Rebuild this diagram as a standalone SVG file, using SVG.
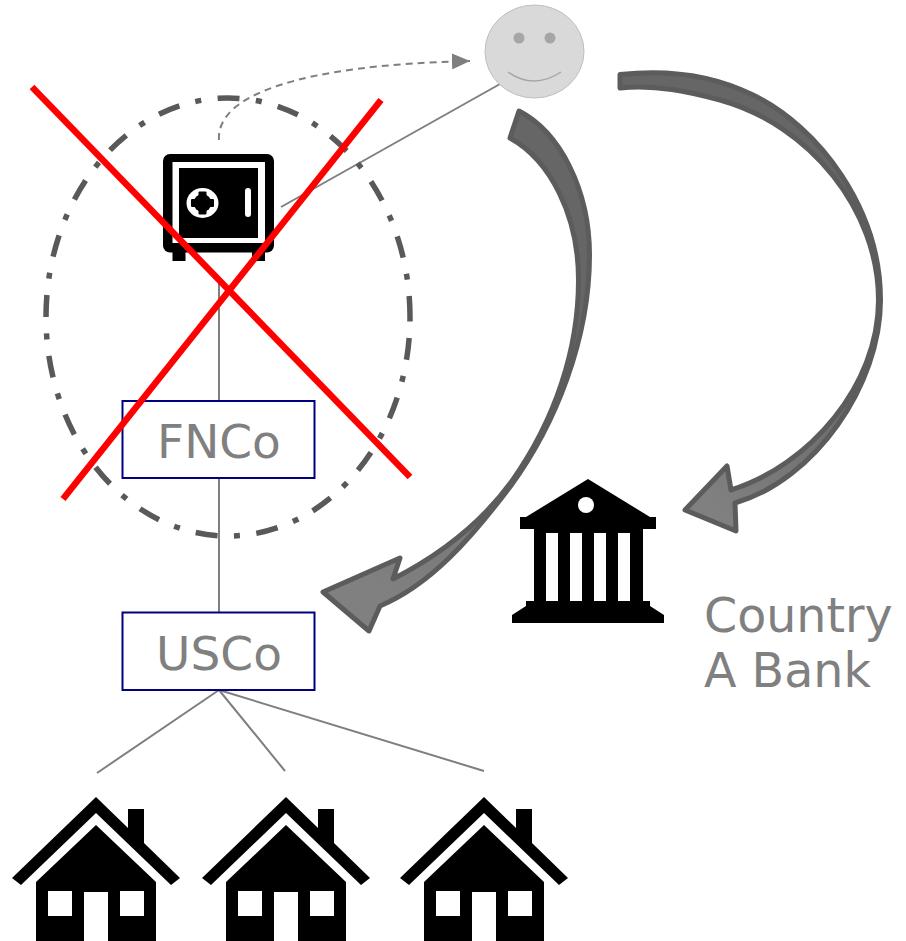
<svg xmlns="http://www.w3.org/2000/svg" width="906" height="941" viewBox="0 0 906 941">
<style>
.t{font-family:"DejaVu Sans",Verdana,sans-serif;font-size:47px;fill:#808080}
.box{fill:none;stroke:#000080;stroke-width:2}
.ln{fill:none;stroke:#7f7f7f;stroke-width:2}
.big{stroke:#5c5c5c;stroke-width:5;stroke-linejoin:round}
.x{stroke:#ff0000;stroke-width:6.500;fill:none}
</style>
<defs>
<marker id="ah" markerUnits="userSpaceOnUse" markerWidth="20" markerHeight="16" refX="18" refY="8" orient="auto"><path d="M0,0L18,8L0,16Z" fill="#7f7f7f"/></marker>
<linearGradient id="g1" gradientUnits="userSpaceOnUse" x1="540" y1="300" x2="400" y2="600"><stop offset="0" stop-color="#666"/><stop offset="1" stop-color="#808080"/></linearGradient>
<linearGradient id="g2" gradientUnits="userSpaceOnUse" x1="850" y1="350" x2="720" y2="510"><stop offset="0" stop-color="#666"/><stop offset="1" stop-color="#808080"/></linearGradient>
<g id="house">
<path d="M0,0L32,31V12H48V46L84,81L75,88L0,16L-75,88L-84,81Z" fill="#000"/>
<path d="M0,28L60,85V144H12V95H-12V144H-60V85ZM-48,94V119H-24V94ZM24,94V119H48V94Z" fill="#000" fill-rule="evenodd"/>
</g>
</defs>
<g id="connectors">
<path class="ln" d="M219,278V401M219,478V612"/>
<path class="ln" d="M281,207L500,84"/>
<path class="ln" d="M219,690L97,773M219,690L285,771M219,690L484,771"/>
<path class="ln" stroke-dasharray="7,5" marker-end="url(#ah)" d="M219,140C216,95 300,65 470,61"/>
</g>
<g id="scope"><ellipse cx="228" cy="317" rx="182" ry="219" fill="none" stroke="#595959" stroke-width="5.500" stroke-dasharray="22,16.500,6,16.500" stroke-dashoffset="40"/></g>
<g id="safe">
<rect x="163" y="154" width="111" height="98.500" rx="7" fill="#000"/>
<rect x="172.500" y="251" width="13" height="10" fill="#000"/>
<rect x="252" y="251" width="13" height="10" fill="#000"/>
<rect x="172.500" y="162" width="92.500" height="81" fill="#fff"/>
<rect x="179" y="168" width="79" height="70" fill="#000"/>
<ellipse cx="202.500" cy="203" rx="16" ry="15" fill="#fff"/>
<circle cx="202.500" cy="203" r="9" fill="#000"/>
<rect x="198.500" y="191.500" width="8" height="23" rx="1" fill="#000"/>
<rect x="191" y="199" width="23" height="8" rx="1" fill="#000"/>
<rect x="245" y="188" width="6" height="29" rx="3" fill="#fff"/>
</g>
<g id="fnco"><rect class="box" x="122.500" y="401" width="192" height="77"/><text class="t" x="219" y="458" text-anchor="middle">FNCo</text></g>
<g id="usco"><rect class="box" x="122.500" y="612.500" width="192" height="77.500"/><text class="t" x="219" y="670" text-anchor="middle">USCo</text></g>
<g id="person">
<ellipse cx="534.500" cy="51.500" rx="49.500" ry="46.500" fill="#d9d9d9" stroke="#bfbfbf"/>
<circle cx="519" cy="38" r="5.500" fill="#a6a6a6"/>
<circle cx="550" cy="38" r="5.500" fill="#a6a6a6"/>
<path d="M508,72Q534,90 561,72" fill="none" stroke="#a6a6a6" stroke-width="1.500"/>
</g>
<g id="bank">
<path fill-rule="evenodd" fill="#000" d="M588,479L650,517H656V529H643V601H650V606L664,615V623H512V615L526,606V601H534V529H520V517H526ZM546,533V601H558V533ZM570,533V601H582V533ZM594,533V601H606V533ZM618,533V601H630V533Z"/>
<circle cx="586" cy="505" r="8" fill="#fff"/>
</g>
<text class="t" x="704" y="632" style="font-size:47.500px">Country</text>
<text class="t" x="704" y="687" style="font-size:47.500px">A Bank</text>
<g id="house1"><use href="#house" x="96" y="797"/></g>
<g id="house2"><use href="#house" x="286" y="797"/></g>
<g id="house3"><use href="#house" x="484" y="797"/></g>
<g id="cross">
<path class="x" d="M32,87L410,477"/>
<path class="x" d="M381,100L63,499"/>
</g>
<g id="arrow-usco"><path class="big" fill="url(#g1)" d="M519,111C560,132 589.500,190 589.500,255C589.500,340 555,425 511,485.500C470,540 430,585 380,606L369,631L323,592L400,558L393,579C440,555 480,525 512,481C555,420 578.500,350 578.500,280C578.500,215 550,160 510,138Z"/></g>
<g id="arrow-bank"><path class="big" fill="url(#g2)" d="M620,74.500C665,69.500 710,74 752,94.500C820,127 880.500,210 880.500,300C880.500,385 815,480 735,503L736,531L685,510L727,466L731,490C810,465 878.500,385 878.500,300C878.500,210 810,125 720,100C690,92 655,84 620,88Z"/></g>
</svg>
